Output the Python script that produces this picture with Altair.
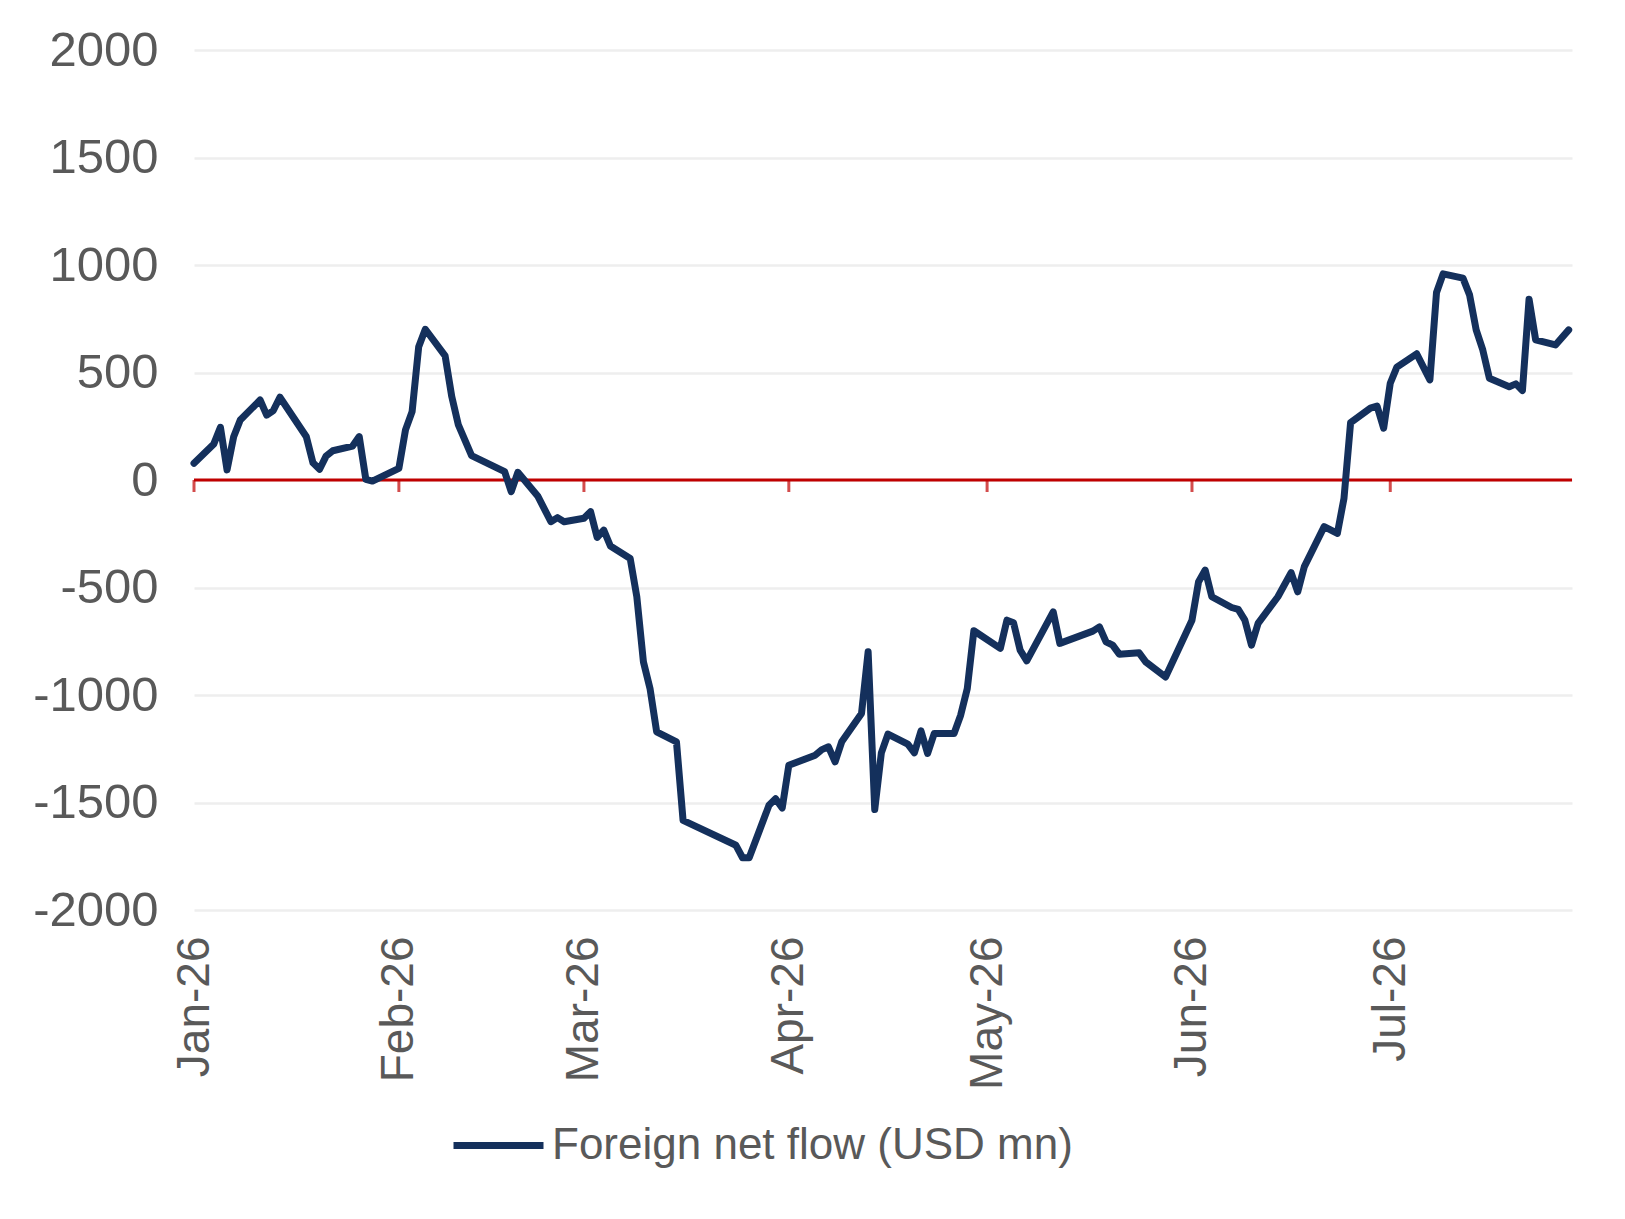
import altair as alt
import pandas as pd

# ---- data ----
dates = [
    "2026-01-01", "2026-01-04", "2026-01-05", "2026-01-06", "2026-01-07", "2026-01-08",
    "2026-01-11", "2026-01-12", "2026-01-13", "2026-01-14", "2026-01-18", "2026-01-19",
    "2026-01-20", "2026-01-21", "2026-01-22", "2026-01-25", "2026-01-26", "2026-01-27",
    "2026-01-28", "2026-02-01", "2026-02-02", "2026-02-03", "2026-02-04", "2026-02-05",
    "2026-02-08", "2026-02-09", "2026-02-10", "2026-02-12", "2026-02-17", "2026-02-18",
    "2026-02-19", "2026-02-22", "2026-02-24", "2026-02-25", "2026-02-26", "2026-03-01",
    "2026-03-02", "2026-03-03", "2026-03-04", "2026-03-05", "2026-03-08", "2026-03-09",
    "2026-03-10", "2026-03-11", "2026-03-12", "2026-03-15", "2026-03-16", "2026-03-24",
    "2026-03-25", "2026-03-26", "2026-03-29", "2026-03-30", "2026-03-31", "2026-04-01",
    "2026-04-05", "2026-04-06", "2026-04-07", "2026-04-08", "2026-04-09", "2026-04-12",
    "2026-04-13", "2026-04-14", "2026-04-15", "2026-04-16", "2026-04-19", "2026-04-20",
    "2026-04-21", "2026-04-22", "2026-04-23", "2026-04-26", "2026-04-27", "2026-04-28",
    "2026-04-29", "2026-05-03", "2026-05-04", "2026-05-05", "2026-05-06", "2026-05-07",
    "2026-05-11", "2026-05-12", "2026-05-17", "2026-05-18", "2026-05-19", "2026-05-20",
    "2026-05-21", "2026-05-24", "2026-05-25", "2026-05-28", "2026-06-01", "2026-06-02",
    "2026-06-03", "2026-06-04", "2026-06-07", "2026-06-08", "2026-06-09", "2026-06-10",
    "2026-06-11", "2026-06-14", "2026-06-16", "2026-06-17", "2026-06-18", "2026-06-21",
    "2026-06-23", "2026-06-24", "2026-06-25", "2026-06-28", "2026-06-29", "2026-06-30",
    "2026-07-01", "2026-07-02", "2026-07-05", "2026-07-07", "2026-07-08", "2026-07-09",
    "2026-07-12", "2026-07-13", "2026-07-14", "2026-07-15", "2026-07-16", "2026-07-19",
    "2026-07-20", "2026-07-21", "2026-07-22", "2026-07-23", "2026-07-26", "2026-07-28",
]
values = [
    78, 168, 245, 47, 201, 279,
    372, 302, 323, 385, 201, 80,
    50, 112, 136, 158, 202, 3,
    -5, 54, 233, 318, 620, 701,
    577, 388, 256, 113, 39, -54,
    36, -74, -194, -175, -194, -178,
    -147, -267, -233, -307, -365, -543,
    -846, -970, -1171, -1218, -1583, -1699,
    -1757, -1757, -1513, -1482, -1526, -1327,
    -1280, -1254, -1241, -1311, -1218, -1086,
    -799, -1533, -1269, -1182, -1229, -1269,
    -1167, -1272, -1179, -1179, -1094, -970,
    -701, -783, -652, -664, -791, -841,
    -613, -760, -703, -683, -753, -768,
    -810, -804, -846, -916, -652, -473,
    -419, -543, -593, -602, -652, -768,
    -667, -543, -431, -520, -403, -217,
    -248, -85, 267, 334, 344, 241,
    450, 525, 587, 466, 872, 959,
    939, 861, 698, 605, 473, 434,
    447, 416, 841, 652, 628, 698,
]
series_name = "Foreign net flow (USD mn)"
month_tick_dates = ["2026-01-01", "2026-02-01", "2026-03-01", "2026-04-01",
                    "2026-05-01", "2026-06-01", "2026-07-01"]
y_tick_values = [-2000, -1500, -1000, -500, 0, 500, 1000, 1500, 2000]
zero_level = 0

df = pd.DataFrame({"date": dates, "value": values, "series": series_name})
ticks_df = pd.DataFrame({"date": month_tick_dates, "value": zero_level})
zero_df = pd.DataFrame({"value": [zero_level]})

TEXT = "#595959"
NAVY = "#14305C"
RED = "#C00000"
FONT = "Liberation Sans"

x_scale = alt.Scale(
    type="utc",
    domain=[alt.DateTime(year=2026, month=1, date=1, utc=True),
            alt.DateTime(year=2026, month=7, date=28, hours=12, utc=True)],
)
y_scale = alt.Scale(domain=[-2000, 2000], nice=False, zero=False)

x_axis = alt.Axis(
    values=[alt.DateTime(year=2026, month=m, date=1, utc=True) for m in range(1, 8)],
    labelExpr="utcFormat(datum.value, '%b-%y')",
    labelAngle=270, labelPadding=26, labelFontSize=46, labelColor=TEXT,
    labelFont=FONT, labelLimit=0,
    domain=False, ticks=False, grid=False, title=None, labelOverlap=False,
)
y_axis = alt.Axis(
    values=y_tick_values, grid=True, gridColor="#EEEEEE", gridWidth=2.5,
    domain=False, ticks=False, labelPadding=36, labelFontSize=49,
    labelColor=TEXT, labelFont=FONT, title=None,
    labelExpr="'' + datum.value",
)

x_enc = alt.X("date:T", scale=x_scale, axis=x_axis)
y_enc = alt.Y("value:Q", scale=y_scale, axis=y_axis)

zero_rule = alt.Chart(zero_df).mark_rule(color=RED, strokeWidth=3).encode(
    y=y_enc
)

month_ticks = alt.Chart(ticks_df).mark_tick(
    color=RED, thickness=3, size=12, orient="vertical", yOffset=6
).encode(
    x=x_enc,
    y=y_enc,
)

line = alt.Chart(df).mark_line(
    strokeWidth=7, strokeJoin="round", strokeCap="round"
).encode(
    x=x_enc,
    y=y_enc,
    color=alt.Color(
        "series:N",
        scale=alt.Scale(domain=[series_name], range=[NAVY]),
        legend=alt.Legend(
            title=None, orient="none", legendX=256, legendY=1047,
            symbolType="stroke", symbolSize=8100, symbolStrokeWidth=7,
            labelFontSize=44, labelFont=FONT,
            labelColor=TEXT, labelOffset=5, labelLimit=0,
        ),
    ),
)

chart = alt.layer(zero_rule, month_ticks, line).properties(
    width=1378,
    height=860,
    autosize=alt.AutoSizeParams(type="none"),
    padding={"left": 186, "top": 42, "right": 45, "bottom": 300},
).configure_view(stroke=None)

chart.save("out.html", embed_options={"renderer": "svg", "actions": False})
